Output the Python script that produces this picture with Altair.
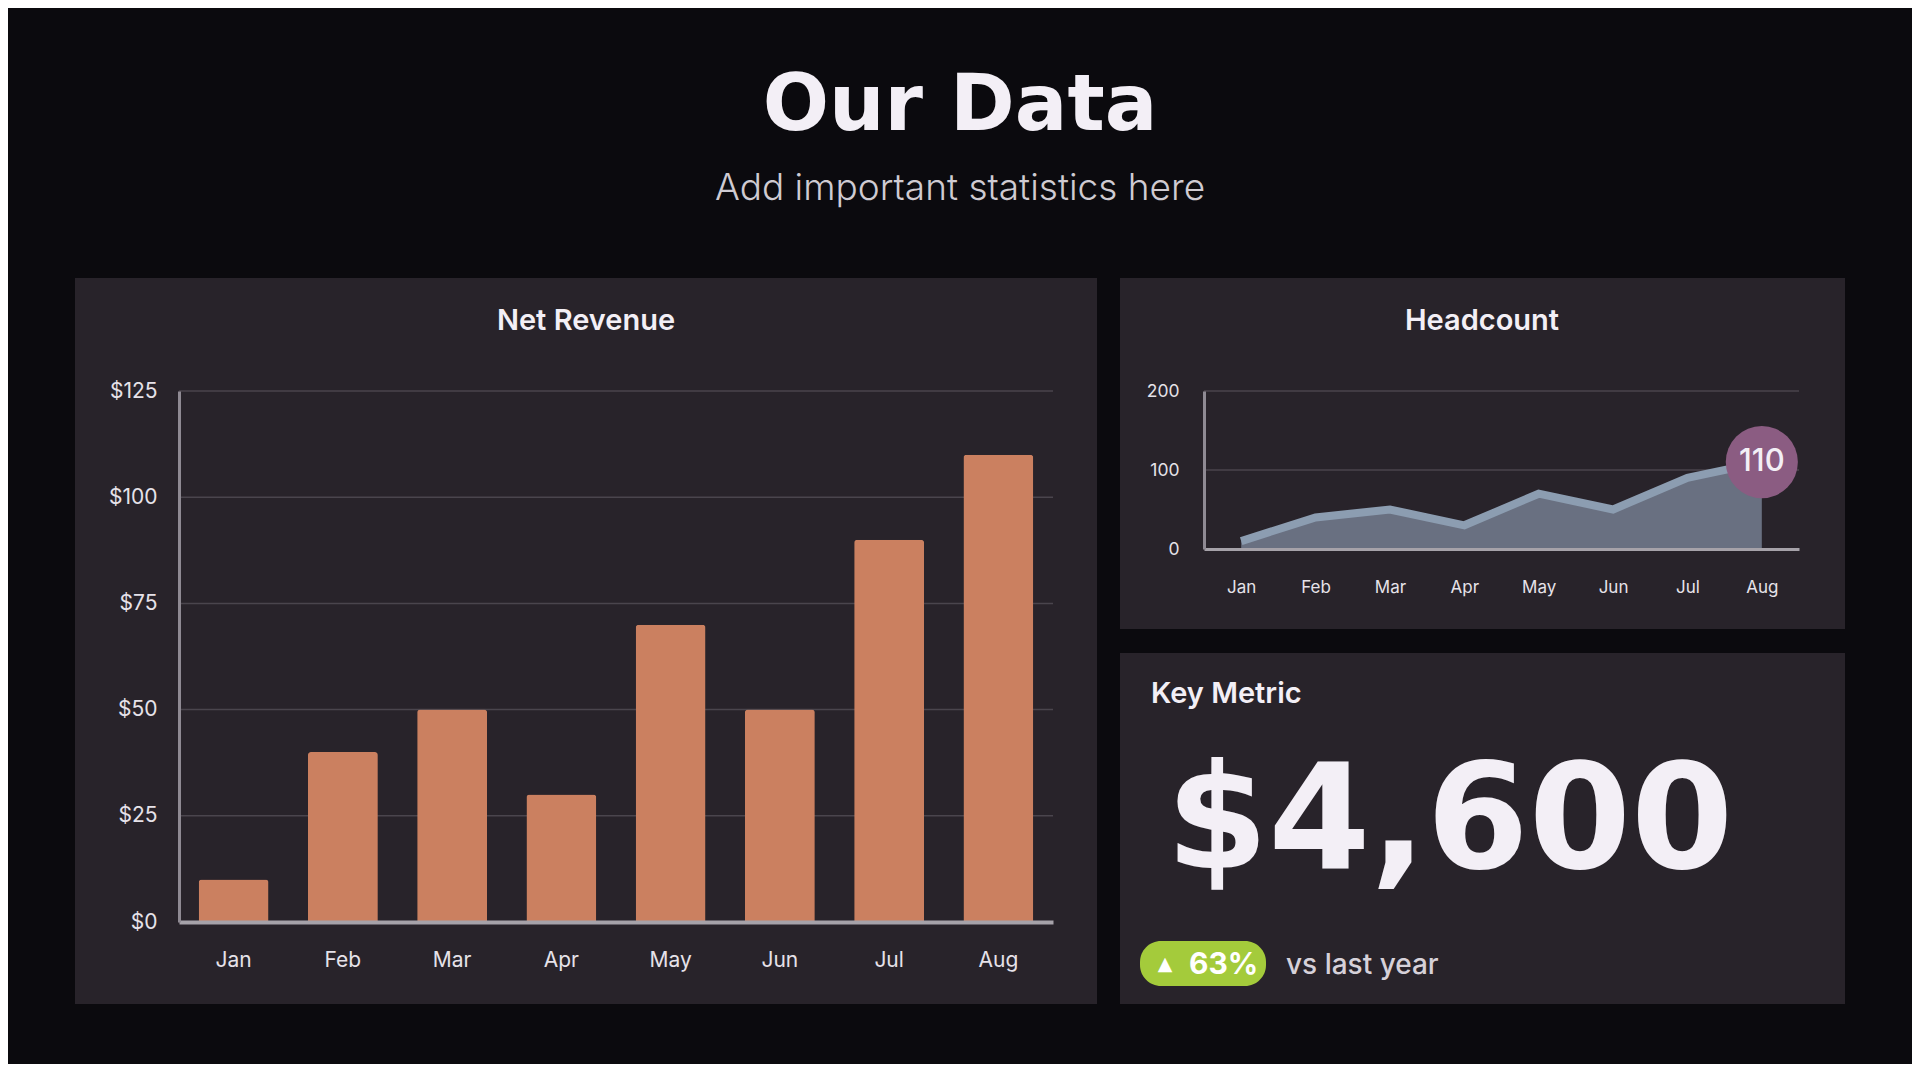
import altair as alt
import pandas as pd

# ---------------- data ----------------
months = ["Jan", "Feb", "Mar", "Apr", "May", "Jun", "Jul", "Aug"]
revenue = [10, 40, 50, 30, 70, 50, 90, 110]
headcount = [10, 40, 50, 30, 70, 50, 90, 110]
revenue_ticks = [0, 25, 50, 75, 100, 125]
revenue_grid = [25, 50, 75, 100, 125]
headcount_ticks = [0, 100, 200]
headcount_grid = [100, 200]
highlight_month = ["Aug"]
highlight_value = [110]

page_title = "Our Data"
page_subtitle = "Add important statistics here"
revenue_title = "Net Revenue"
headcount_title = "Headcount"
metric_title = "Key Metric"
metric_value = "$4,600"
metric_arrow = "▲"
metric_change = "63%"
metric_note = "vs last year"

# ---------------- style ----------------
W, H = 1904, 1056
BG = "#0b0a0e"
PANEL = "#28232a"
GRID = "#4a454d"
AXIS = "#8f8a93"
AXIS_X = "#a6a2a9"
TXT = "#f3eff6"
LBL = "#e6e2e9"
BAR = "#cb8060"
AREA = "#697081"
LINE = "#8c9db1"
DOT = "#8b5c82"
GREEN = "#a4cb3b"

rev_df = pd.DataFrame({"month": months, "value": revenue})
hc_df = pd.DataFrame({"month": months, "value": headcount})
hl_df = pd.DataFrame({"month": highlight_month, "value": highlight_value})


def label(text, x, y, size, weight, color, font="Inter", align="center", baseline="alphabetic"):
    return alt.Chart(pd.DataFrame({"t": [text]})).mark_text(
        align=align, baseline=baseline, font=font, fontSize=size,
        fontWeight=weight, color=color
    ).encode(x=alt.value(x), y=alt.value(y), text="t:N")


def panel(x0, x1, y0, y1, color=PANEL, radius=0):
    return alt.Chart(pd.DataFrame({"p": [0]})).mark_rect(
        color=color, cornerRadius=radius
    ).encode(x=alt.value(x0), x2=alt.value(x1), y=alt.value(y0), y2=alt.value(y1))


# ---------------- revenue chart ----------------
RX0, RX1, RY0, RY1 = 171, 1045, 914, 383
rx = alt.Scale(domain=months, range=[RX0, RX1], paddingInner=0.36, paddingOuter=0.18)
ry = alt.Scale(domain=[0, 125], range=[RY0, RY1], nice=False)

rev_grid = alt.Chart(pd.DataFrame({"v": revenue_grid})).mark_rule(
    color=GRID, strokeWidth=1.5
).encode(y=alt.Y("v:Q", scale=ry, axis=None), x=alt.value(RX0), x2=alt.value(RX1))

rev_bars = alt.Chart(rev_df).mark_bar(
    color=BAR, cornerRadiusTopLeft=3, cornerRadiusTopRight=3
).encode(
    x=alt.X("month:N", scale=rx, sort=None, axis=alt.Axis(
        orient="bottom", offset=RY0 - H, title=None, ticks=False, grid=False,
        domainColor=AXIS_X, domainWidth=4, labelAngle=0, labelColor=LBL,
        labelFont="Inter", labelFontSize=21, labelPadding=27, zindex=1)),
    y=alt.Y("value:Q", scale=ry, axis=alt.Axis(
        orient="left", offset=-RX0, title=None, ticks=False, grid=False,
        values=revenue_ticks, format="$.0f", domainColor=AXIS, domainWidth=3,
        labelColor=LBL, labelFont="Inter", labelFontSize=21, labelPadding=22,
        zindex=1)),
)

# ---------------- headcount chart ----------------
HX0, HX1, HY0, HY1 = 1196, 1791, 541, 383
hx = alt.Scale(type="point", domain=months, range=[HX0, HX1], padding=0.5)
hy = alt.Scale(domain=[0, 200], range=[HY0, HY1], nice=False)

hc_grid = alt.Chart(pd.DataFrame({"v": headcount_grid})).mark_rule(
    color=GRID, strokeWidth=1.5
).encode(y=alt.Y("v:Q", scale=hy, axis=None), x=alt.value(HX0), x2=alt.value(HX1))

hc_area = alt.Chart(hc_df).mark_area(color=AREA, opacity=1).encode(
    x=alt.X("month:N", scale=hx, sort=None, axis=alt.Axis(
        orient="bottom", offset=HY0 - H, title=None, ticks=False, grid=False,
        domainColor=AXIS_X, domainWidth=3, labelAngle=0, labelColor=LBL,
        labelFont="Inter", labelFontSize=17, labelPadding=30, zindex=1)),
    y=alt.Y("value:Q", scale=hy, axis=alt.Axis(
        orient="left", offset=-HX0, title=None, ticks=False, grid=False,
        values=headcount_ticks, domainColor=AXIS, domainWidth=3,
        labelColor=LBL, labelFont="Inter", labelFontSize=17.5, labelPadding=25,
        zindex=1)),
)

hc_line = alt.Chart(hc_df).mark_line(color=LINE, strokeWidth=8, strokeCap="butt").encode(
    x=alt.X("month:N", scale=hx, sort=None, axis=None),
    y=alt.Y("value:Q", scale=hy, axis=None),
)

hc_dot = alt.Chart(hl_df).mark_circle(size=5200, color=DOT, opacity=1).encode(
    x=alt.X("month:N", scale=hx, axis=None),
    y=alt.Y("value:Q", scale=hy, axis=None),
)

hc_dot_text = alt.Chart(hl_df).mark_text(
    font="Inter", fontSize=31, fontWeight=500, color=TXT, baseline="middle", align="center"
).encode(
    x=alt.X("month:N", scale=hx, axis=None),
    y=alt.Y("value:Q", scale=hy, axis=None),
    text="value:N",
)

# ---------------- assemble ----------------
layers = [
    panel(67, 1089, 270, 996),
    panel(1112, 1837, 270, 621),
    panel(1112, 1837, 645, 996),
    label(page_title, 952, 122, 78, "bold", TXT, font="DejaVu Sans"),
    label(page_subtitle, 952, 192, 37, 300, "#cfcbd2"),
    label(revenue_title, 578, 322, 29, 600, TXT),
    label(headcount_title, 1474, 322, 29, 600, TXT),
    rev_grid,
    rev_bars,
    hc_grid,
    hc_area,
    hc_line,
    hc_dot,
    hc_dot_text,
    label(metric_title, 1143, 695, 29, 600, TXT, align="left"),
    label(metric_value, 1158, 860, 147, "bold", TXT, font="DejaVu Sans", align="left"),
    panel(1132, 1258, 933, 978, color=GREEN, radius=21),
    label(metric_arrow, 1157, 956, 19, "normal", "#ffffff", font="DejaVu Sans", baseline="middle"),
    label(metric_change, 1181, 966, 30, 700, "#ffffff", align="left"),
    label(metric_note, 1278, 966, 28, 500, "#d6d1d9", align="left"),
]

chart = alt.layer(*layers).resolve_scale(
    x="independent", y="independent"
).resolve_axis(
    x="independent", y="independent"
).properties(
    width=W, height=H, padding=0,
    autosize=alt.AutoSizeParams(type="none"),
).configure(background=BG).configure_view(strokeWidth=0)

chart.save("out.html", embed_options={"renderer": "svg", "actions": False})
